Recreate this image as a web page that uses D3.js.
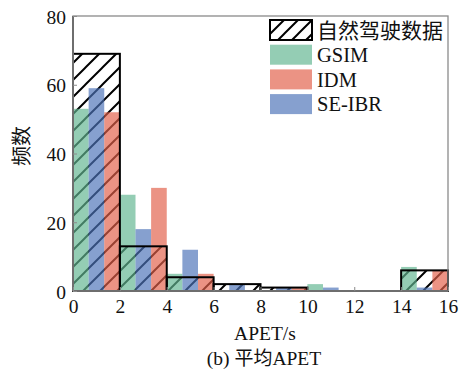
<!DOCTYPE html>
<html>
<head>
<meta charset="utf-8">
<script src="https://cdn.jsdelivr.net/npm/d3@7"></script>
<style>
  html, body { margin: 0; padding: 0; background: #fff; }
  svg { display: block; }
</style>
</head>
<body>
<svg id="chart" width="460" height="375"></svg>
<script>
// Histogram bins of mean APET (s), bin width 2
const binStarts = [0, 2, 4, 6, 8, 10, 12, 14];
const naturalCounts = [69, 13, 4, 2, 1, 0, 0, 6];
const gsimCounts    = [53, 28, 5, 0, 0, 2, 0, 7];
const ibrCounts     = [59, 18, 12, 2, 1, 1, 0, 1];
const idmCounts     = [52, 30, 5, 0, 1, 0, 0, 6];
const xTicks = [0, 2, 4, 6, 8, 10, 12, 14, 16];
const yTicks = [0, 20, 40, 60, 80];

const binWidth = 2;
const serif = "'Liberation Serif', 'DejaVu Serif', serif";
const cjk = "'Noto Sans CJK SC', sans-serif";
const barOpacity = 0.68;

const svg = d3.select("#chart");
const plotLeft = 73, plotRight = 448, plotTop = 16, plotBottom = 291;

const x = d3.scaleLinear().domain([0, 16]).range([plotLeft, plotRight]);
const y = d3.scaleLinear().domain([0, 80]).range([plotBottom, plotTop]);

// Hatch for the naturalistic driving data
const defs = svg.append("defs");
const hatch = defs.append("pattern")
  .attr("id", "hatch")
  .attr("patternUnits", "userSpaceOnUse")
  .attr("width", 17).attr("height", 17);
hatch.append("rect").attr("width", 17).attr("height", 17).attr("fill", "#fff");
hatch.append("path")
  .attr("d", "M0,17 L17,0 M-4,4 L4,-4 M13,21 L21,13")
  .attr("stroke", "#000").attr("stroke-width", 2);

const hatchLeg = defs.append("pattern")
  .attr("id", "hatchLeg")
  .attr("patternUnits", "userSpaceOnUse")
  .attr("x", 270).attr("y", 20)
  .attr("width", 14).attr("height", 14);
hatchLeg.append("rect").attr("width", 14).attr("height", 14).attr("fill", "#fff");
hatchLeg.append("path")
  .attr("d", "M0,14 L14,0 M-4,4 L4,-4 M10,18 L18,10")
  .attr("stroke", "#000").attr("stroke-width", 2);

// Natural data: hatched fill underneath
const natural = binStarts.map((b, i) => ({ x0: b, v: naturalCounts[i] })).filter(d => d.v > 0);
svg.append("g").selectAll("rect").data(natural).join("rect")
  .attr("x", d => x(d.x0))
  .attr("y", d => y(d.v))
  .attr("width", d => x(d.x0 + binWidth) - x(d.x0))
  .attr("height", d => y(0) - y(d.v))
  .attr("fill", "url(#hatch)");

// Model series as three side-by-side bars inside each bin
const series = [
  { name: "GSIM",   values: gsimCounts, color: "#62b690", slot: 0 },
  { name: "SE-IBR", values: ibrCounts,  color: "#4c73b8", slot: 1 },
  { name: "IDM",    values: idmCounts,  color: "#e2604a", slot: 2 }
];
const sub = binWidth / 3;
series.forEach(s => {
  const data = binStarts.map((b, i) => ({ x0: b + s.slot * sub, v: s.values[i] })).filter(d => d.v > 0);
  svg.append("g").selectAll("rect").data(data).join("rect")
    .attr("x", d => x(d.x0))
    .attr("y", d => y(d.v))
    .attr("width", d => x(d.x0 + sub) - x(d.x0))
    .attr("height", d => y(0) - y(d.v))
    .attr("fill", s.color)
    .attr("fill-opacity", barOpacity);
});

// Natural data outlines on top
svg.append("g").selectAll("rect").data(natural).join("rect")
  .attr("x", d => x(d.x0))
  .attr("y", d => y(d.v))
  .attr("width", d => x(d.x0 + binWidth) - x(d.x0))
  .attr("height", d => y(0) - y(d.v))
  .attr("fill", "none")
  .attr("stroke", "#000")
  .attr("stroke-width", 2);

// Frame
svg.append("rect")
  .attr("x", plotLeft).attr("y", plotTop)
  .attr("width", plotRight - plotLeft).attr("height", plotBottom - plotTop)
  .attr("fill", "none").attr("stroke", "#8a8a8a").attr("stroke-width", 1.3);
svg.append("line").attr("x1", plotLeft).attr("x2", plotLeft).attr("y1", plotTop).attr("y2", plotBottom)
  .attr("stroke", "#6e6e6e").attr("stroke-width", 2);
svg.append("line").attr("x1", plotLeft).attr("x2", plotRight).attr("y1", plotBottom).attr("y2", plotBottom)
  .attr("stroke", "#6e6e6e").attr("stroke-width", 2);

// Axes
const xAxis = svg.append("g")
  .attr("transform", `translate(0,${plotBottom})`)
  .call(d3.axisBottom(x).tickValues(xTicks).tickSizeInner(-4).tickSizeOuter(0).tickPadding(8));
const yAxis = svg.append("g")
  .attr("transform", `translate(${plotLeft},0)`)
  .call(d3.axisLeft(y).tickValues(yTicks).tickSizeInner(-4).tickSizeOuter(0).tickPadding(7));
[xAxis, yAxis].forEach(a => {
  a.select(".domain").remove();
  a.selectAll(".tick line").attr("stroke", "#8a8a8a").attr("stroke-width", 1);
  a.selectAll(".tick text").attr("fill", "#111").style("font-family", serif).style("font-size", "19.5px");
});
xAxis.selectAll(".tick text").attr("dy", "0.71em");
yAxis.selectAll(".tick text").attr("dy", "0.36em");

// Axis titles and caption
svg.append("text")
  .attr("x", 265).attr("y", 340)
  .attr("text-anchor", "middle")
  .style("font-family", serif).style("font-size", "19.5px").attr("fill", "#111")
  .text("APET/s");
svg.append("text")
  .attr("x", 264).attr("y", 365)
  .attr("text-anchor", "middle")
  .attr("fill", "#111")
  .call(t => {
    t.append("tspan").style("font-family", serif).style("font-size", "19.5px").text("(b) ");
    t.append("tspan").style("font-family", cjk).style("font-size", "19px").text("平均");
    t.append("tspan").style("font-family", serif).style("font-size", "19.5px").text("APET");
  });
svg.append("text")
  .attr("transform", "translate(22,146) rotate(-90)")
  .attr("dy", "0.36em")
  .attr("text-anchor", "middle")
  .style("font-family", cjk).style("font-size", "20px").attr("fill", "#111")
  .text("频数");

// Legend
const legendItems = [
  { label: "自然驾驶数据", fill: "url(#hatchLeg)", stroke: "#000", opacity: 1, font: cjk, size: "21px" },
  { label: "GSIM",   fill: "#62b690", stroke: "none", opacity: barOpacity, font: serif, size: "20.5px" },
  { label: "IDM",    fill: "#e2604a", stroke: "none", opacity: barOpacity, font: serif, size: "20.5px" },
  { label: "SE-IBR", fill: "#4c73b8", stroke: "none", opacity: barOpacity, font: serif, size: "20.5px" }
];
const lg = svg.append("g");
legendItems.forEach((d, i) => {
  const yy = 20 + i * 24.7;
  lg.append("rect")
    .attr("x", 270).attr("y", yy).attr("width", 42).attr("height", 20)
    .attr("fill", d.fill).attr("fill-opacity", d.opacity)
    .attr("stroke", d.stroke).attr("stroke-width", d.stroke === "none" ? 0 : 2);
  lg.append("text")
    .attr("x", 317).attr("y", yy + 10).attr("dy", "0.36em")
    .style("font-family", d.font).style("font-size", d.size).attr("fill", "#111")
    .text(d.label);
});
</script>
</body>
</html>
